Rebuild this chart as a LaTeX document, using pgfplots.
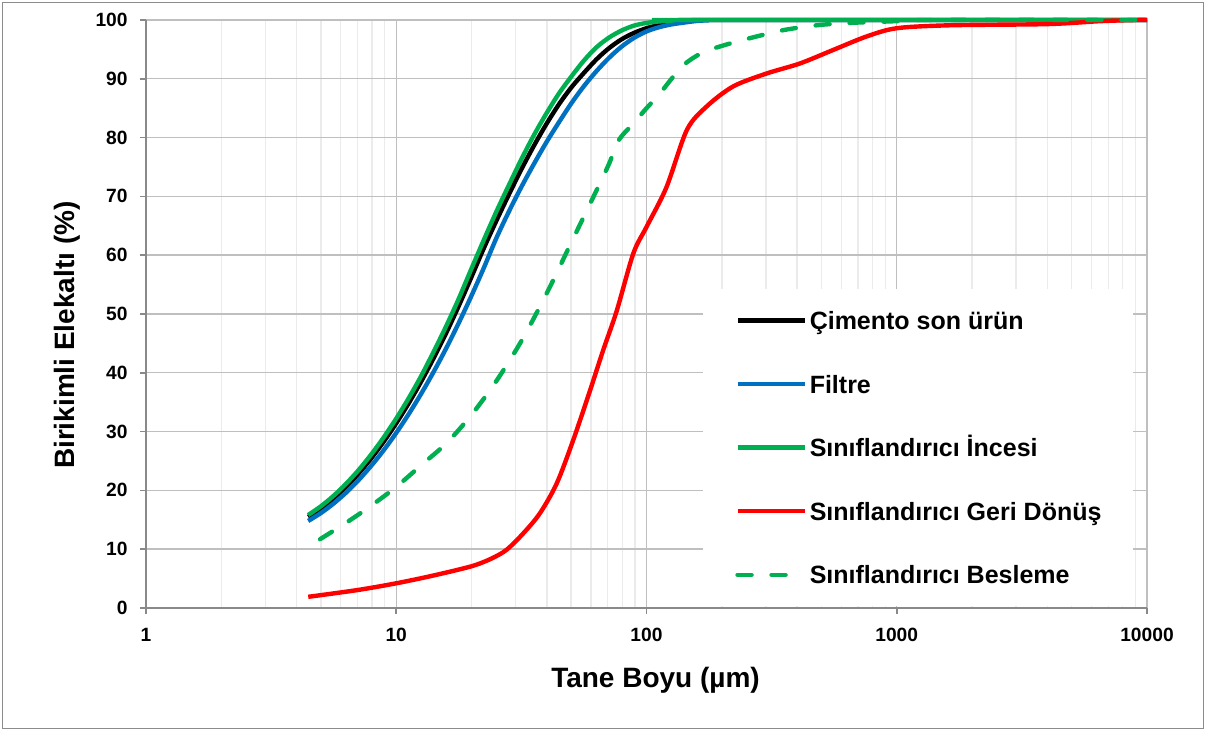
\documentclass[border=0pt]{standalone}
\usepackage{fontspec}
\setmainfont{Liberation Sans}
\usepackage{pgfplots}
\pgfplotsset{compat=1.18}
\definecolor{cblue}{HTML}{0070C0}
\definecolor{cgreen}{HTML}{00B050}
\definecolor{cred}{HTML}{FF0000}
\definecolor{gridmaj}{HTML}{BFBFBF}
\definecolor{gridmin}{HTML}{EBEBEB}
\definecolor{axisgray}{HTML}{898989}
\definecolor{framegray}{HTML}{8C8C8C}

\begin{document}
\begin{tikzpicture}
\useasboundingbox (0,0) rectangle (603pt,365.5pt);
\draw[framegray, line width=0.8pt] (1.2pt,1.2pt) rectangle (601.8pt,364.3pt);
\begin{axis}[
  at={(73pt,61.5pt)}, anchor=south west,
  scale only axis, width=500.5pt, height=294pt,
  xmode=log, xmin=1, xmax=10000, ymin=0, ymax=100,
  xtick={1,10,100,1000,10000}, xticklabels={1,10,100,1000,10000},
  ytick={0,10,...,100},
  axis lines=left, axis line style={-, axisgray, line width=0.9pt},
  tick align=outside, major tick length=3pt, minor tick length=0pt,
  tick style={axisgray, line width=0.8pt},
  xmajorgrids, xminorgrids, ymajorgrids,
  major grid style={gridmaj, line width=0.7pt},
  minor grid style={gridmin, line width=0.7pt},
  /pgf/number format/assume math mode=true,
  ticklabel style={font=\bfseries\fontsize{9.6}{11}\selectfont},
  yticklabel style={anchor=east, inner sep=0pt, xshift=-6pt},
  xticklabel style={anchor=north, inner sep=0pt, yshift=-7pt},
  xlabel={Tane Boyu (µm)},
  xlabel style={at={(axis description cs:0.509,-0.136)}, anchor=base, font=\bfseries\fontsize{14}{16}\selectfont},
  ylabel={Birikimli Elekaltı (\%)},
  ylabel style={at={(axis description cs:-0.079,0.464)}, anchor=center, font=\bfseries\fontsize{14}{16}\selectfont},
  legend cell align=left,
  legend style={at={(axis description cs:0.5564,0.5425)}, anchor=north west, draw=none, fill=white,
    font=\bfseries\fontsize{12.5}{14}\selectfont, inner xsep=16pt, inner ysep=9.5pt,
    row sep=19.8pt, column sep=1.5pt,
    nodes={inner sep=0pt, text height=10.5pt, text depth=1.5pt}},
  legend image code/.code={\draw[#1] (0pt,0pt) -- (33.5pt,0pt);},
  clip=false,
]
\addplot[black, line width=2.2pt, smooth] coordinates {
(4.446,15.5)(4.989,16.89)(5.598,18.58)(6.281,20.54)(7.047,22.8)(7.907,25.34)(8.872,28.18)(9.954,31.29)(11.17,34.7)(12.53,38.39)(14.06,42.38)(15.78,46.64)(17.70,51.2)(19.86,56.04)(22.39,61.2)(25.12,65.85)(28.18,70.3)(31.62,74.6)(35.48,78.6)(39.81,82.3)(44.67,85.65)(50.12,88.55)(56.23,91.0)(63.10,93.3)(70.79,95.2)(79.43,96.7)(89.13,97.8)(100,98.6)(112.2,99.15)(125.9,99.5)(141.3,99.8)(158.5,99.95)(177.8,100)(10000,100)};
\addlegendentry{Çimento son ürün}
\addplot[cblue, line width=2.2pt, smooth] coordinates {
(4.446,14.8)(4.989,16.12)(5.598,17.71)(6.281,19.56)(7.047,21.68)(7.907,24.08)(8.872,26.73)(9.954,29.66)(11.17,32.86)(12.53,36.32)(14.06,40.05)(15.78,44.05)(17.70,48.32)(19.86,52.85)(22.39,57.85)(25.12,62.9)(28.18,67.4)(31.62,71.6)(35.48,75.5)(39.81,79.2)(44.67,82.6)(50.12,85.85)(56.23,88.75)(63.10,91.3)(70.79,93.55)(79.43,95.45)(89.13,96.95)(100,98.05)(112.2,98.77)(125.9,99.25)(141.3,99.56)(158.5,99.83)(177.8,99.95)(199.5,100)(10000,100)};
\addlegendentry{Filtre}
\addplot[cgreen, line width=2.2pt, smooth] coordinates {
(4.446,15.81)(4.989,17.27)(5.598,19.02)(6.281,21.06)(7.047,23.38)(7.907,26.0)(8.872,28.9)(9.954,32.09)(11.17,35.56)(12.53,39.32)(14.06,43.46)(15.78,47.8)(17.70,52.43)(19.86,57.45)(22.39,62.6)(25.12,67.4)(28.18,71.9)(31.62,76.3)(35.48,80.4)(39.81,84.1)(44.67,87.5)(50.12,90.4)(56.23,93.1)(63.10,95.35)(70.79,97.0)(79.43,98.2)(89.13,99.04)(100,99.5)(112.2,99.75)(125.9,99.9)(141.3,100)(10000,100)};
\addlegendentry{Sınıflandırıcı İncesi}
\addplot[cred, line width=2.2pt, smooth] coordinates {
(4.45,1.9)(7,3.05)(10,4.2)(14,5.5)(20,7.1)(24,8.4)(27.6,9.9)(32.2,12.7)(37.5,16.1)(43.8,21.2)(51,28.6)(59.5,37)(67.2,43.9)(76,50.5)(88.6,60.3)(100,64.8)(120,71.5)(145,81.3)(174,85.3)(222,88.7)(302,90.9)(410,92.6)(557,94.9)(758,97.2)(1000,98.6)(1632,99.1)(4000,99.3)(6500,99.8)(9000,100)(10000,100)};
\addlegendentry{Sınıflandırıcı Geri Dönüş}
\addplot[cgreen, line width=2.2pt, smooth, line cap=round, dash pattern=on 7pt off 10pt] coordinates {
(4.96,11.7)(6.31,14.5)(7.94,17.4)(10,20.6)(12.59,24.3)(15.85,28.0)(19.95,32.8)(25.12,38.6)(31.62,45.4)(39.81,53.4)(50.12,62.2)(63.1,71)(70.8,75.5)(77.6,79.6)(89.1,82.5)(100,85)(112.2,87.3)(125.9,90)(141.3,92.4)(158.5,93.9)(177.8,94.9)(223.9,96.2)(281.8,97.3)(354.8,98.3)(478.6,99.1)(645.7,99.5)(1000,99.8)(1318,100)(10000,100)};
\addlegendentry{Sınıflandırıcı Besleme}
\end{axis}
\end{tikzpicture}
\end{document}
